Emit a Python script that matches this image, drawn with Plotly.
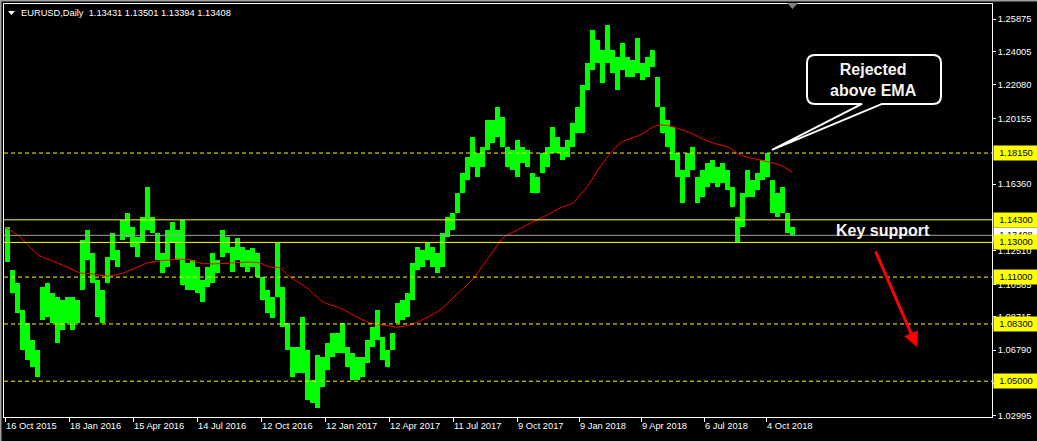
import plotly.graph_objects as go

# ---------------- data ----------------
# Weekly price ranges (5 daily bars per group), EURUSD Daily, Oct 2015 -> Oct 2018
week_high = [1.1389,1.1141,1.1066,1.0910,1.0835,1.0737,1.0680,1.1043,1.1066,1.1008,
             1.0985,1.0968,1.0985,1.0985,1.0968,1.1314,1.1371,1.1239,1.1083,1.1026,
             1.1216,1.1354,1.1256,1.1429,1.1470,1.1389,1.1331,1.1446,1.1619,1.1446,
             1.1354,1.1239,1.1371,1.1418,1.1371,1.1429,1.1181,1.1199,1.1158,1.1083,
             1.1158,1.1239,1.1199,1.1371,1.1331,1.1273,1.1325,1.1273,1.1256,1.1268,
             1.1239,1.1101,1.1026,1.0985,1.1297,1.1043,1.0835,1.0697,1.0697,1.0870,
             1.0680,1.0507,1.0651,1.0639,1.0720,1.0778,1.0778,1.0835,1.0697,1.0663,
             1.0639,1.0639,1.0737,1.0812,1.0910,1.0755,1.0680,1.0778,1.0951,1.0968,
             1.1008,1.1181,1.1273,1.1256,1.1297,1.1273,1.1239,1.1354,1.1446,1.1470,
             1.1585,1.1700,1.1792,1.1907,1.1815,1.1850,1.2005,1.2005,1.2080,1.2023,
             1.1850,1.1833,1.1890,1.1850,1.1833,1.1700,1.1677,1.1815,1.1850,1.1965,
             1.1907,1.1850,1.1890,1.1988,1.2080,1.2207,1.2334,1.2524,1.2467,1.2409,
             1.2553,1.2409,1.2369,1.2449,1.2369,1.2351,1.2478,1.2334,1.2369,1.2409,
             1.2253,1.2080,1.2005,1.1965,1.1815,1.1717,1.1815,1.1850,1.1677,1.1717,
             1.1758,1.1775,1.1735,1.1758,1.1717,1.1619,1.1446,1.1585,1.1717,1.1660,
             1.1700,1.1775,1.1815,1.1660,1.1585,1.1619,1.1470,1.1389]
week_low = [1.1187,1.1008,1.0893,1.0680,1.0622,1.0582,1.0524,1.0853,1.0870,1.0835,
            1.0720,1.0795,1.0835,1.0795,1.0835,1.1026,1.1199,1.1066,1.0870,1.0835,
            1.1066,1.1199,1.1158,1.1314,1.1331,1.1273,1.1216,1.1297,1.1371,1.1354,
            1.1199,1.1124,1.1158,1.1297,1.1199,1.1055,1.1026,1.1026,1.1008,1.0957,
            1.1043,1.1066,1.1124,1.1216,1.1239,1.1129,1.1199,1.1158,1.1129,1.1158,
            1.1101,1.0968,1.0893,1.0864,1.0985,1.0812,1.0680,1.0524,1.0547,1.0547,
            1.0392,1.0374,1.0346,1.0467,1.0565,1.0639,1.0663,1.0663,1.0582,1.0507,
            1.0507,1.0524,1.0605,1.0697,1.0737,1.0622,1.0582,1.0680,1.0835,1.0853,
            1.0870,1.0968,1.1141,1.1158,1.1199,1.1158,1.1124,1.1158,1.1331,1.1371,
            1.1470,1.1585,1.1660,1.1735,1.1677,1.1735,1.1833,1.1873,1.1907,1.1850,
            1.1735,1.1717,1.1677,1.1758,1.1735,1.1585,1.1585,1.1700,1.1735,1.1815,
            1.1815,1.1775,1.1792,1.1850,1.1931,1.1931,1.2178,1.2294,1.2334,1.2219,
            1.2334,1.2276,1.2178,1.2294,1.2253,1.2253,1.2276,1.2236,1.2253,1.2311,
            1.2080,1.1931,1.1850,1.1775,1.1677,1.1527,1.1677,1.1717,1.1527,1.1562,
            1.1619,1.1642,1.1619,1.1642,1.1602,1.1504,1.1302,1.1389,1.1562,1.1562,
            1.1602,1.1660,1.1677,1.1470,1.1446,1.1470,1.1354,1.1343]
bars_per_week = 5

# EMA line: (bar index, value)
ema_bar = [1,16,29,36,46,63,76,89,103,116,129,143,156,176,186,196,206,226,246,256,
           266,276,286,303,319,336,353,366,379,393,406,416,436,451,468,483,499,513,529,543,
           556,569,576,583,596,616,636,649,656,666,686,706,726,736,756,776,788]
ema_val = [1.1389,1.1331,1.1256,1.1222,1.1199,1.1158,1.1124,1.1118,1.1106,1.1118,
           1.1147,1.1181,1.1193,1.1204,1.1199,1.1181,1.1176,1.1181,1.1187,1.1181,
           1.1158,1.1153,1.1101,1.1037,1.0957,1.0922,1.0870,1.0835,1.0824,1.0812,
           1.0824,1.0847,1.0910,1.0991,1.1083,1.1199,1.1325,1.1371,1.1418,1.1458,
           1.1498,1.1527,1.1573,1.1619,1.1735,1.1873,1.1919,1.1965,1.1977,1.1971,
           1.1931,1.1879,1.1844,1.1804,1.1775,1.1746,1.1706]

# date axis labels at bar index
date_tick_bar = [1,65,129,193,257,321,385,449,513,575,637,700,762]
date_tick_text = ["16 Oct 2015","18 Jan 2016","15 Apr 2016","14 Jul 2016","12 Oct 2016",
                  "12 Jan 2017","12 Apr 2017","11 Jul 2017","9 Oct 2017","9 Jan 2018",
                  "9 Apr 2018","6 Jul 2018","4 Oct 2018"]
# price scale labels (those not fully hidden behind the level tags)
price_ticks = [1.25875,1.24005,1.22080,1.20155,1.16360,1.12510,
               1.10585,1.08715,1.06790,1.04870,1.02995]

dashed_levels = [1.18150, 1.11000, 1.08300, 1.05000]
solid_levels = [1.14300, 1.13000]
current_price = 1.13408
title_text = "EURUSD,Daily  1.13431 1.13501 1.13394 1.13408"

# ---------------- layout constants ----------------
X_RANGE = [0, 988]
Y_RANGE = [1.02937, 1.26740]
FONT = "Liberation Sans, Arial, sans-serif"
GREEN = "#00FF00"
YELLOW = "#FFFF00"

W, H = 1037, 441
ML, MR, MT, MB = 4, 45, 4, 24
PW, PH = W - ML - MR, H - MT - MB


def px_x(p):  # pixel -> paper x
    return (p - ML) / PW


def px_y(p):  # pixel -> paper y
    return (H - MB - p) / PH


fig = go.Figure()

centers = [bars_per_week * i + 3.5 for i in range(len(week_high))]
fig.add_trace(go.Bar(
    x=centers, y=[h - l for h, l in zip(week_high, week_low)], base=week_low,
    width=bars_per_week, marker=dict(color=GREEN, line=dict(width=0)),
    hoverinfo="skip", showlegend=False))

fig.add_trace(go.Scatter(
    x=ema_bar, y=ema_val, mode="lines",
    line=dict(color="#FF0000", width=1, shape="spline", smoothing=0.6),
    hoverinfo="skip", showlegend=False))

shapes = []
for lv in dashed_levels:
    shapes.append(dict(type="line", xref="paper", yref="y", x0=0, x1=1, y0=lv, y1=lv,
                       line=dict(color=YELLOW, width=1, dash="4px,3px"), layer="above"))
for lv in solid_levels:
    shapes.append(dict(type="line", xref="paper", yref="y", x0=0, x1=1, y0=lv, y1=lv,
                       line=dict(color=YELLOW, width=1), layer="above"))
shapes.append(dict(type="line", xref="paper", yref="y", x0=0, x1=1,
                   y0=current_price, y1=current_price,
                   line=dict(color="#A0A0A0", width=1), layer="above"))

# callout box with tail (data coords)
bx0, bx1 = 803, 937
by0, by1 = 1.2098, 1.2380
rx, ry = 8, 0.0046
tl, tr = 858, 878
tip_x, tip_y = 768, 1.1833
path = (f"M {bx0+rx},{by1} L {bx1-rx},{by1} Q {bx1},{by1} {bx1},{by1-ry} "
        f"L {bx1},{by0+ry} Q {bx1},{by0} {bx1-rx},{by0} L {tr},{by0} "
        f"L {tip_x},{tip_y} L {tl},{by0} L {bx0+rx},{by0} "
        f"Q {bx0},{by0} {bx0},{by0+ry} L {bx0},{by1-ry} Q {bx0},{by1} {bx0+rx},{by1} Z")
shapes.append(dict(type="path", xref="x", yref="y", path=path,
                   fillcolor="#000000", line=dict(color="#FFFFFF", width=2), layer="above"))

# chart-shift triangle at the top
shapes.append(dict(type="path", xref="paper", yref="paper",
                   path=f"M {px_x(787)},{px_y(3)} L {px_x(798)},{px_y(3)} L {px_x(792.5)},{px_y(9)} Z",
                   fillcolor="#808080", line=dict(width=0), layer="above"))
# small title triangle
shapes.append(dict(type="path", xref="paper", yref="paper",
                   path=f"M {px_x(8)},{px_y(11)} L {px_x(15)},{px_y(11)} L {px_x(11.5)},{px_y(15)} Z",
                   fillcolor="#FFFFFF", line=dict(width=0), layer="above"))
# window border
shapes.append(dict(type="line", xref="paper", yref="paper", x0=px_x(0.5), x1=px_x(0.5),
                   y0=px_y(0), y1=px_y(441), line=dict(color="#A0A0A0", width=2), layer="above"))
shapes.append(dict(type="line", xref="paper", yref="paper", x0=px_x(0), x1=px_x(1037),
                   y0=px_y(0.5), y1=px_y(0.5), line=dict(color="#A0A0A0", width=2), layer="above"))

annotations = []
annotations.append(dict(xref="paper", yref="paper", x=px_x(19), y=px_y(13),
                        xanchor="left", yanchor="middle", showarrow=False, text=title_text,
                        font=dict(family=FONT, size=9.3, color="#FFFFFF")))


def price_label(v, bg):
    return dict(xref="paper", yref="y", x=px_x(993), y=v, xanchor="left", yanchor="middle",
                showarrow=False, text=f"{v:.5f}", bgcolor=bg, width=40, height=10,
                borderpad=2, align="center",
                font=dict(family=FONT, size=9.3, color="#000000"))


annotations.append(price_label(current_price, "#FFFFFF"))
for lv in dashed_levels + solid_levels:
    annotations.append(price_label(lv, YELLOW))

annotations.append(dict(xref="x", yref="y", x=869, y=1.2236, showarrow=False,
                        text="<b>Rejected<br>above EMA</b>",
                        font=dict(family=FONT, size=16, color="#F5F5F5")))
annotations.append(dict(xref="x", yref="y", x=879, y=1.1366, showarrow=False,
                        text="<b>Key support</b>",
                        font=dict(family=FONT, size=16, color="#F5F5F5")))
annotations.append(dict(xref="x", yref="y", x=913, y=1.0697, axref="x", ayref="y",
                        ax=871, ay=1.1256, text="", showarrow=True, arrowhead=2,
                        arrowsize=1, arrowwidth=3, arrowcolor="#FF0000", standoff=0,
                        startstandoff=0))

fig.update_layout(
    width=W, height=H,
    margin=dict(l=ML, r=MR, t=MT, b=MB, pad=0),
    paper_bgcolor="#000000", plot_bgcolor="#000000",
    showlegend=False, bargap=0,
    shapes=shapes, annotations=annotations,
    xaxis=dict(range=X_RANGE, tickmode="array", tickvals=date_tick_bar, ticktext=date_tick_text,
               ticks="outside", ticklen=4, tickcolor="#FFFFFF", tickwidth=1,
               ticklabelposition="outside right",
               showline=True, linecolor="#FFFFFF", linewidth=1, mirror=True,
               showgrid=False, zeroline=False,
               tickfont=dict(family=FONT, size=9.3, color="#FFFFFF")),
    yaxis=dict(range=Y_RANGE, side="right", tickmode="array", tickvals=price_ticks,
               ticktext=[f"{v:.5f}" for v in price_ticks],
               ticks="outside", ticklen=3, tickcolor="#FFFFFF", tickwidth=1,
               showline=True, linecolor="#FFFFFF", linewidth=1, mirror=True,
               showgrid=False, zeroline=False,
               tickfont=dict(family=FONT, size=9.3, color="#FFFFFF")),
)

fig.write_html(
    "out.html",
    config={"displayModeBar": False},
    post_script="document.body.style.margin='0';document.body.style.background='#000';",
)
